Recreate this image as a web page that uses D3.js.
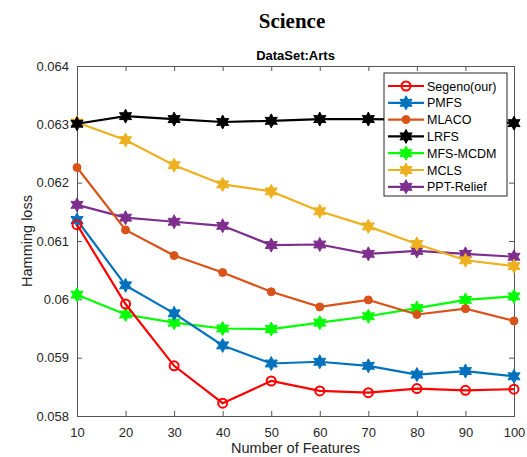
<!DOCTYPE html>
<html>
<head>
<meta charset="utf-8">
<script src="https://cdn.jsdelivr.net/npm/d3@7"></script>
<style>
  body { margin: 0; background: #fff; }
  svg { display: block; }
  .axis text { font-family: "Liberation Sans", Arial, sans-serif; font-size: 13px; fill: #262626; }
  .axis path, .axis line { stroke: #555; }
</style>
</head>
<body>
<div id="chart"></div>
<script>
// x positions (number of selected features)
const features = [10, 20, 30, 40, 50, 60, 70, 80, 90, 100];
const yTicks = [0.058, 0.059, 0.06, 0.061, 0.062, 0.063, 0.064];

// hamming loss per method
const segeno   = [0.06128, 0.05992, 0.05886, 0.05822, 0.0586, 0.05843, 0.0584, 0.05847, 0.05844, 0.05846];
const pmfs     = [0.06136, 0.06024, 0.05976, 0.05921, 0.0589, 0.05893, 0.05886, 0.05871, 0.05877, 0.05868];
const mlaco    = [0.06226, 0.06119, 0.06075, 0.06046, 0.06013, 0.05987, 0.05999, 0.05974, 0.05984, 0.05963];
const lrfs     = [0.06301, 0.06314, 0.06309, 0.06304, 0.06306, 0.06309, 0.06309, 0.06308, 0.06306, 0.06302];
const mfsMcdm  = [0.06008, 0.05974, 0.0596, 0.0595, 0.05949, 0.0596, 0.05971, 0.05985, 0.05999, 0.06005];
const mcls     = [0.06303, 0.06273, 0.0623, 0.06197, 0.06185, 0.06151, 0.06125, 0.06095, 0.06067, 0.06057];
const pptRelief= [0.06162, 0.0614, 0.06133, 0.06126, 0.06093, 0.06094, 0.06078, 0.06083, 0.06078, 0.06073];

const seriesNames = ['Segeno(our)', 'PMFS', 'MLACO', 'LRFS', 'MFS-MCDM', 'MCLS', 'PPT-Relief'];
const seriesValues = [segeno, pmfs, mlaco, lrfs, mfsMcdm, mcls, pptRelief];
const colors = ['#ff0000', '#0072bd', '#d95319', '#000000', '#00ff00', '#edb120', '#7e2f8e'];
const markers = ['circle', 'hex', 'dot', 'hex', 'hex', 'hex', 'hex'];

const width = 527, height = 457;
const margin = {left: 77, right: 13, top: 66, bottom: 41};

const svg = d3.select('div#chart').append('svg')
  .attr('width', width)
  .attr('height', height);

const x = d3.scaleLinear().domain([10, 100]).range([margin.left, width - margin.right]);
const y = d3.scaleLinear().domain([0.058, 0.064]).range([height - margin.bottom, margin.top]);

// six-pointed star like matlab 'h'
const hexagram = {
  draw(ctx, size) {
    const r = Math.sqrt(size), ri = r * 0.55;
    for (let i = 0; i < 12; i++) {
      const a = -Math.PI / 2 + i * Math.PI / 6;
      const rr = i % 2 ? ri : r;
      if (i === 0) ctx.moveTo(rr * Math.cos(a), rr * Math.sin(a));
      else ctx.lineTo(rr * Math.cos(a), rr * Math.sin(a));
    }
    ctx.closePath();
  }
};

// titles
svg.append('text')
  .attr('x', 292).attr('y', 28)
  .attr('text-anchor', 'middle')
  .style('font-family', '"Liberation Serif", "Times New Roman", serif')
  .style('font-weight', 'bold').style('font-size', '21px')
  .text('Science');

svg.append('text')
  .attr('x', (margin.left + width - margin.right) / 2).attr('y', 60)
  .attr('text-anchor', 'middle')
  .style('font-family', '"Liberation Sans", Arial, sans-serif')
  .style('font-weight', 'bold').style('font-size', '13px')
  .text('DataSet:Arts');

// axes, ticks inward, box on
const xAxis = d3.axisBottom(x).tickValues(features).tickSize(-5).tickPadding(12).tickFormat(d3.format('d'));
const xTop = d3.axisTop(x).tickValues(features).tickSize(-5).tickFormat('');
const yAxis = d3.axisLeft(y).tickValues(yTicks).tickSize(-5).tickPadding(8).tickFormat(d => String(+d.toFixed(3)));
const yRight = d3.axisRight(y).tickValues(yTicks).tickSize(-5).tickFormat('');

svg.append('g').attr('class', 'axis')
  .attr('transform', `translate(0, ${height - margin.bottom})`).call(xAxis);
svg.append('g').attr('class', 'axis')
  .attr('transform', `translate(0, ${margin.top})`).call(xTop);
svg.append('g').attr('class', 'axis')
  .attr('transform', `translate(${margin.left}, 0)`).call(yAxis);
svg.append('g').attr('class', 'axis')
  .attr('transform', `translate(${width - margin.right}, 0)`).call(yRight);
svg.selectAll('.axis .domain').attr('stroke-width', 1);

svg.append('text')
  .attr('x', (margin.left + width - margin.right) / 2).attr('y', 453)
  .attr('text-anchor', 'middle')
  .style('font-family', '"Liberation Sans", Arial, sans-serif').style('font-size', '14.5px')
  .style('fill', '#262626')
  .text('Number of Features');

svg.append('text')
  .attr('transform', `translate(32, ${(margin.top + height - margin.bottom) / 2}) rotate(-90)`)
  .attr('text-anchor', 'middle')
  .style('font-family', '"Liberation Sans", Arial, sans-serif').style('font-size', '14.5px')
  .style('fill', '#262626')
  .text('Hamming loss');

function drawMarker(g, kind, color) {
  if (kind === 'circle') {
    g.append('circle').attr('r', 4.5).attr('fill', 'none').attr('stroke', color).attr('stroke-width', 2);
  } else if (kind === 'dot') {
    g.append('circle').attr('r', 4).attr('fill', color).attr('stroke', color);
  } else {
    g.append('path').attr('d', d3.symbol().type(hexagram).size(49)()).attr('fill', color).attr('stroke', color).attr('stroke-width', 1);
  }
}

const line = d3.line().x((d, i) => x(features[i])).y(d => y(d));

// draw series (last first so segeno is on top)
for (let k = seriesValues.length - 1; k >= 0; k--) {
  const g = svg.append('g');
  g.append('path').datum(seriesValues[k])
    .attr('d', line).attr('fill', 'none')
    .attr('stroke', colors[k]).attr('stroke-width', 2.2);
  g.selectAll('g.m').data(seriesValues[k]).enter().append('g')
    .attr('class', 'm')
    .attr('transform', (d, i) => `translate(${x(features[i])}, ${y(d)})`)
    .each(function() { drawMarker(d3.select(this), markers[k], colors[k]); });
}

// legend
const lg = svg.append('g').attr('transform', 'translate(384, 73)');
lg.append('rect').attr('width', 123).attr('height', 123)
  .attr('fill', '#fff').attr('stroke', '#262626').attr('stroke-width', 1);
seriesNames.forEach((name, k) => {
  const row = lg.append('g').attr('transform', `translate(0, ${13 + k * 16.8})`);
  row.append('line').attr('x1', 4).attr('x2', 40).attr('stroke', colors[k]).attr('stroke-width', 2.2);
  drawMarker(row.append('g').attr('transform', 'translate(22, 0)'), markers[k], colors[k]);
  row.append('text').attr('x', 43).attr('y', 4.5)
    .style('font-family', '"Liberation Sans", Arial, sans-serif').style('font-size', '12.5px')
    .style('fill', '#000').text(name);
});
</script>
</body>
</html>
